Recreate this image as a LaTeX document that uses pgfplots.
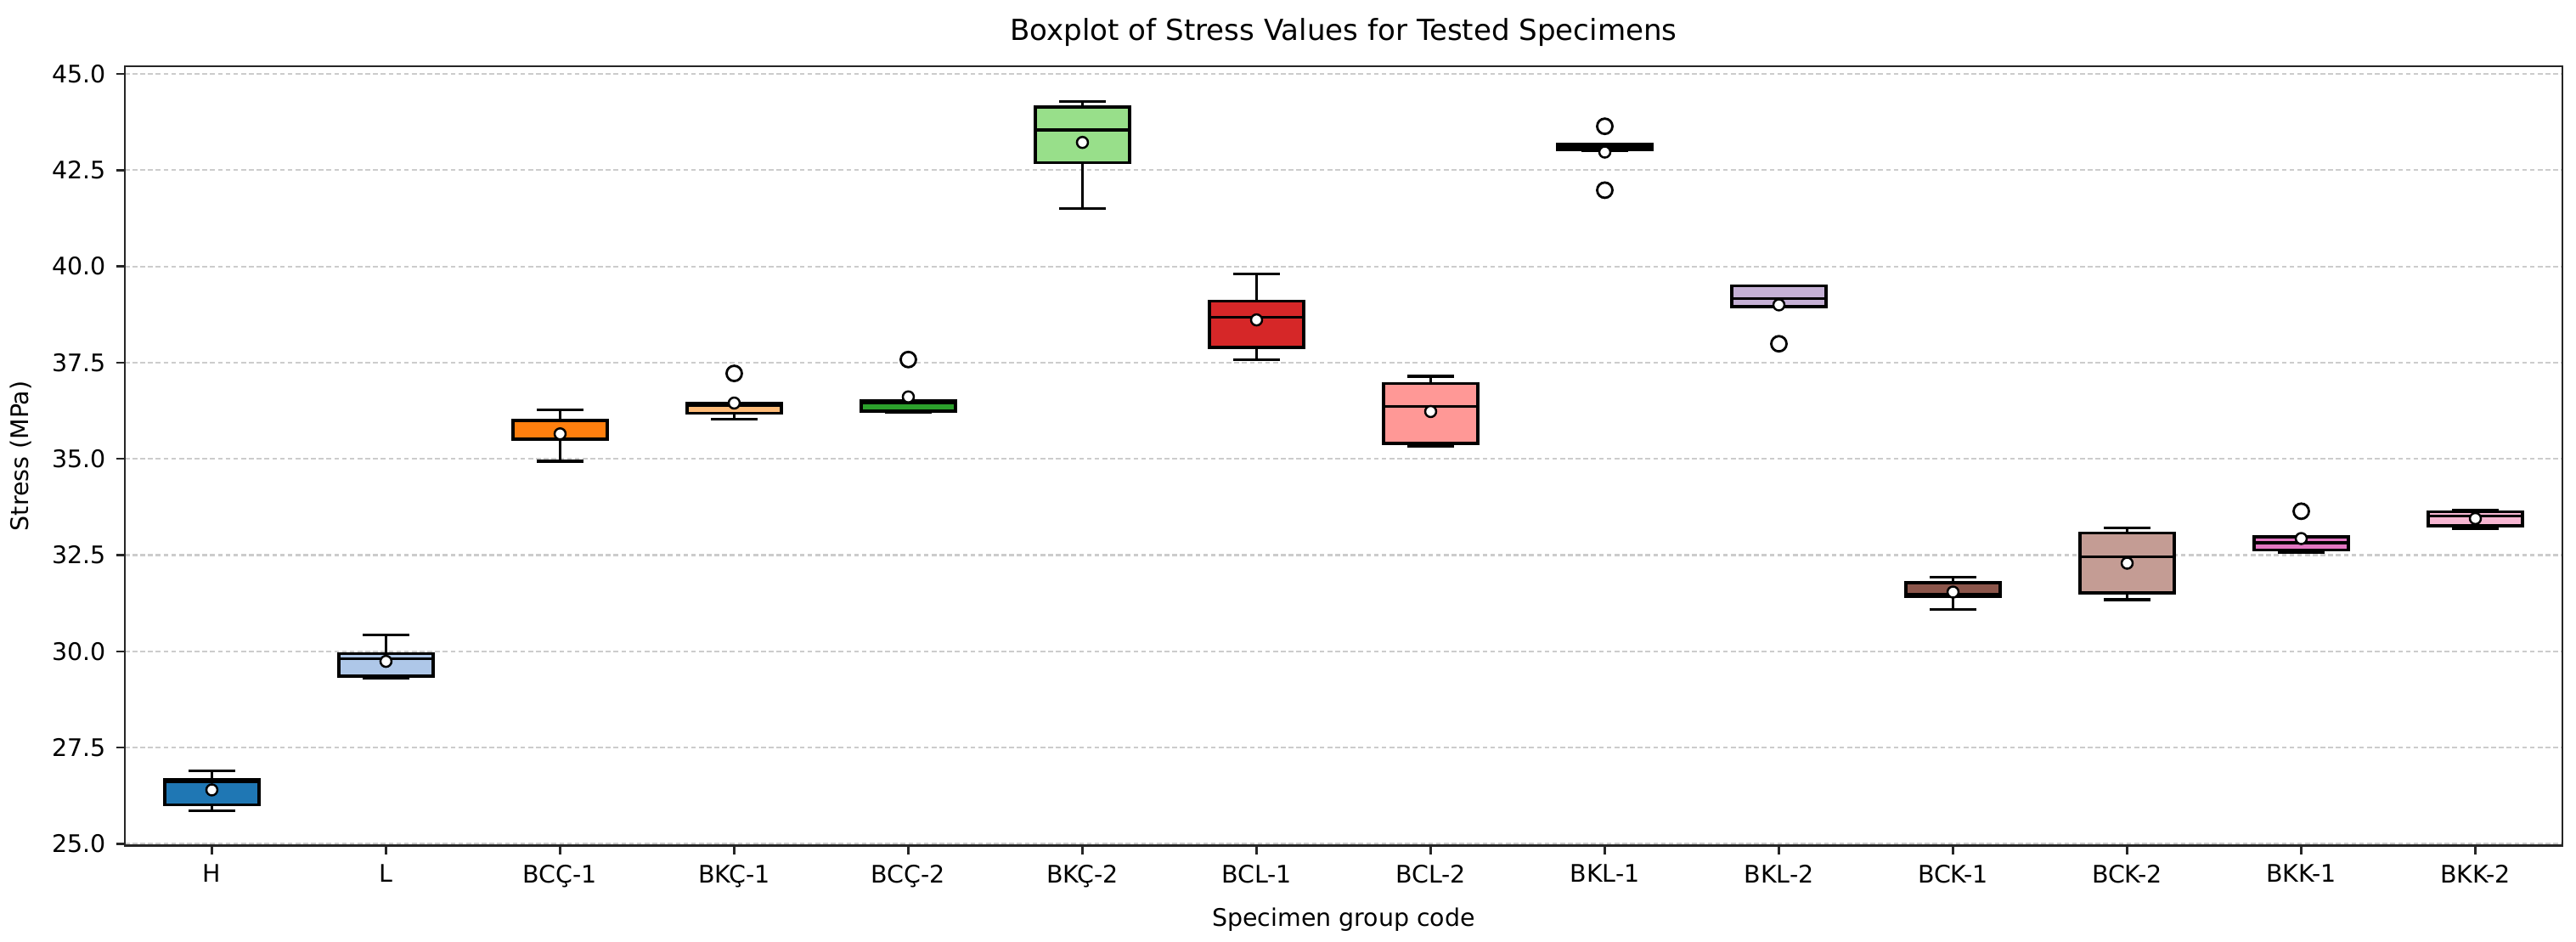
\documentclass[border=0pt]{standalone}
\usepackage{fontspec}
\setmainfont{DejaVu Sans}
\usepackage{pgfplots}
\pgfplotsset{compat=1.18}

% tab20 colours
\definecolor{t1}{HTML}{1F77B4}
\definecolor{t2}{HTML}{AEC7E8}
\definecolor{t3}{HTML}{FF7F0E}
\definecolor{t4}{HTML}{FFBB78}
\definecolor{t5}{HTML}{2CA02C}
\definecolor{t6}{HTML}{98DF8A}
\definecolor{t7}{HTML}{D62728}
\definecolor{t8}{HTML}{FF9896}
\definecolor{t9}{HTML}{9467BD}
\definecolor{t10}{HTML}{C5B0D5}
\definecolor{t11}{HTML}{8C564B}
\definecolor{t12}{HTML}{C49C94}
\definecolor{t13}{HTML}{E377C2}
\definecolor{t14}{HTML}{F7B6D2}

\pgfplotsset{
  box/.style={draw=black, fill=#1, line width=1pt, line join=miter, mark=none},
  seg/.style={draw=black, line width=1pt, mark=none, unbounded coords=jump},
}

\begin{document}
\begin{tikzpicture}
\begin{axis}[name=ax,
  scale only axis, width=28.71cm, height=9.18cm,
  xmin=0.5, xmax=14.5, ymin=24.95, ymax=45.2,
  xtick={1,...,14},
  xticklabels={H,L,BCÇ-1,BKÇ-1,BCÇ-2,BKÇ-2,BCL-1,BCL-2,BKL-1,BKL-2,BCK-1,BCK-2,BKK-1,BKK-2},
  ytick={25,27.5,30,32.5,35,37.5,40,42.5,45},
  yticklabel style={/pgf/number format/.cd, fixed, fixed zerofill, precision=1, assume math mode=true},
  tick pos=left, tick align=outside, major tick length=1mm,
  tick style={black!85, line width=0.7pt},
  axis line style={black!85, line width=0.7pt},
  ymajorgrids, major grid style={gray!40, line width=0.6pt, dash pattern=on 1.6pt off 1pt},
  ticklabel style={font=\fontsize{8.1}{9}\selectfont},
  label style={font=\fontsize{8.1}{9}\selectfont},
  xlabel={Specimen group code}, ylabel={Stress (MPa)},
  title={Boxplot of Stress Values for Tested Specimens},
  title style={font=\fontsize{9.7}{11}\selectfont, yshift=-1mm},
]
% whiskers (lower whisker -> Q1, Q3 -> upper whisker)
\addplot[seg] coordinates {
(1,25.86)(1,26.01)(1,nan)(1,26.68)(1,26.90)(1,nan)
(2,29.30)(2,29.36)(2,nan)(2,29.94)(2,30.43)(2,nan)
(3,34.94)(3,35.50)(3,nan)(3,36.00)(3,36.27)(3,nan)
(4,36.03)(4,36.19)(4,nan)(4,36.45)(4,36.45)(4,nan)
(5,36.21)(5,36.24)(5,nan)(5,36.50)(5,36.50)(5,nan)
(6,41.50)(6,42.69)(6,nan)(6,44.14)(6,44.28)(6,nan)
(7,37.58)(7,37.90)(7,nan)(7,39.10)(7,39.80)(7,nan)
(8,35.32)(8,35.40)(8,nan)(8,36.96)(8,37.14)(8,nan)
(9,43.02)(9,43.03)(9,nan)(9,43.17)(9,43.18)(9,nan)
(10,38.96)(10,38.96)(10,nan)(10,39.49)(10,39.49)(10,nan)
(11,31.09)(11,31.43)(11,nan)(11,31.78)(11,31.93)(11,nan)
(12,31.34)(12,31.52)(12,nan)(12,33.07)(12,33.21)(12,nan)
(13,32.57)(13,32.63)(13,nan)(13,32.97)(13,32.97)(13,nan)
(14,33.19)(14,33.26)(14,nan)(14,33.63)(14,33.67)
};
% caps
\addplot[seg] coordinates {
(0.865,25.86)(1.135,25.86)(1,nan)(0.865,26.90)(1.135,26.90)(1,nan)
(1.865,29.30)(2.135,29.30)(2,nan)(1.865,30.43)(2.135,30.43)(2,nan)
(2.865,34.94)(3.135,34.94)(3,nan)(2.865,36.27)(3.135,36.27)(3,nan)
(3.865,36.03)(4.135,36.03)(4,nan)(3.865,36.45)(4.135,36.45)(4,nan)
(4.865,36.21)(5.135,36.21)(5,nan)(4.865,36.50)(5.135,36.50)(5,nan)
(5.865,41.50)(6.135,41.50)(6,nan)(5.865,44.28)(6.135,44.28)(6,nan)
(6.865,37.58)(7.135,37.58)(7,nan)(6.865,39.80)(7.135,39.80)(7,nan)
(7.865,35.32)(8.135,35.32)(8,nan)(7.865,37.14)(8.135,37.14)(8,nan)
(8.865,43.02)(9.135,43.02)(9,nan)(8.865,43.18)(9.135,43.18)(9,nan)
(9.865,38.96)(10.135,38.96)(10,nan)(9.865,39.49)(10.135,39.49)(10,nan)
(10.865,31.09)(11.135,31.09)(11,nan)(10.865,31.93)(11.135,31.93)(11,nan)
(11.865,31.34)(12.135,31.34)(12,nan)(11.865,33.21)(12.135,33.21)(12,nan)
(12.865,32.57)(13.135,32.57)(13,nan)(12.865,32.97)(13.135,32.97)(13,nan)
(13.865,33.19)(14.135,33.19)(14,nan)(13.865,33.67)(14.135,33.67)
};
% boxes Q1..Q3
\addplot[box=t1]  coordinates {(0.73,26.01)(1.27,26.01)(1.27,26.68)(0.73,26.68)} --cycle;
\addplot[box=t2]  coordinates {(1.73,29.36)(2.27,29.36)(2.27,29.94)(1.73,29.94)} --cycle;
\addplot[box=t3]  coordinates {(2.73,35.50)(3.27,35.50)(3.27,36.00)(2.73,36.00)} --cycle;
\addplot[box=t4]  coordinates {(3.73,36.19)(4.27,36.19)(4.27,36.45)(3.73,36.45)} --cycle;
\addplot[box=t5]  coordinates {(4.73,36.24)(5.27,36.24)(5.27,36.50)(4.73,36.50)} --cycle;
\addplot[box=t6]  coordinates {(5.73,42.69)(6.27,42.69)(6.27,44.14)(5.73,44.14)} --cycle;
\addplot[box=t7]  coordinates {(6.73,37.90)(7.27,37.90)(7.27,39.10)(6.73,39.10)} --cycle;
\addplot[box=t8]  coordinates {(7.73,35.40)(8.27,35.40)(8.27,36.96)(7.73,36.96)} --cycle;
\addplot[box=t9]  coordinates {(8.73,43.03)(9.27,43.03)(9.27,43.17)(8.73,43.17)} --cycle;
\addplot[box=t10] coordinates {(9.73,38.96)(10.27,38.96)(10.27,39.49)(9.73,39.49)} --cycle;
\addplot[box=t11] coordinates {(10.73,31.43)(11.27,31.43)(11.27,31.78)(10.73,31.78)} --cycle;
\addplot[box=t12] coordinates {(11.73,31.52)(12.27,31.52)(12.27,33.07)(11.73,33.07)} --cycle;
\addplot[box=t13] coordinates {(12.73,32.63)(13.27,32.63)(13.27,32.97)(12.73,32.97)} --cycle;
\addplot[box=t14] coordinates {(13.73,33.26)(14.27,33.26)(14.27,33.63)(13.73,33.63)} --cycle;
% medians
\addplot[seg] coordinates {
(0.73,26.62)(1.27,26.62)(1,nan) (1.73,29.81)(2.27,29.81)(2,nan)
(2.73,35.51)(3.27,35.51)(3,nan) (3.73,36.38)(4.27,36.38)(4,nan)
(4.73,36.45)(5.27,36.45)(5,nan) (5.73,43.54)(6.27,43.54)(6,nan)
(6.73,38.68)(7.27,38.68)(7,nan) (7.73,36.36)(8.27,36.36)(8,nan)
(8.73,43.10)(9.27,43.10)(9,nan) (9.73,39.16)(10.27,39.16)(10,nan)
(10.73,31.47)(11.27,31.47)(11,nan) (11.73,32.46)(12.27,32.46)(12,nan)
(12.73,32.82)(13.27,32.82)(13,nan) (13.73,33.52)(14.27,33.52)
};
% means
\addplot[only marks, mark=*, mark size=0.65mm, mark options={fill=white, draw=black, line width=0.7pt}] coordinates {
(1,26.40)(2,29.74)(3,35.65)(4,36.45)(5,36.61)(6,43.22)(7,38.61)
(8,36.23)(9,42.97)(10,39.00)(11,31.54)(12,32.29)(13,32.93)(14,33.45)};
% outliers
\addplot[only marks, mark=*, mark size=0.9mm, mark options={fill=white, draw=black, line width=0.8pt}] coordinates {
(4,37.22)(5,37.58)(9,43.64)(9,41.98)(10,37.99)(13,33.64)};
\end{axis}
\path ([shift={(-1.46cm,-1.12cm)}]ax.south west) rectangle ([shift={(0.16cm,0.78cm)}]ax.north east);
\end{tikzpicture}
\end{document}
